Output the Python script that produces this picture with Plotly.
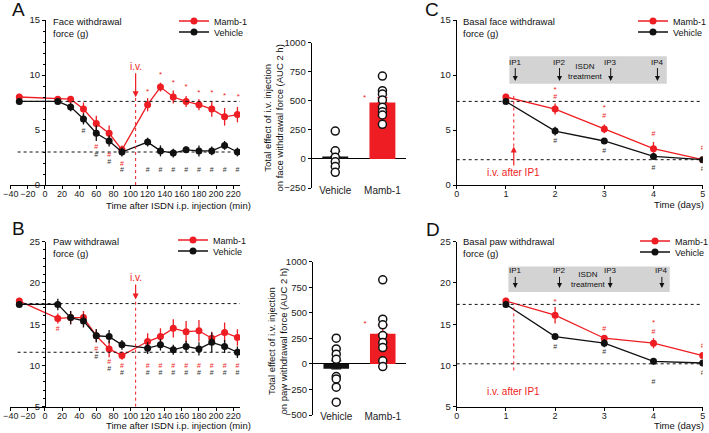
import plotly.graph_objects as go

RED = "#ee1d23"
BLACK = "#111111"
GREY = "#d3d3d3"
FONT = "Liberation Sans, Arial, sans-serif"
W, H = 709, 433

# ---- time course after ISDN i.p. injection (panels A and B)
minutes = [-30, 15, 30, 45, 60, 75, 90, 120, 135, 150, 165, 180, 195, 210, 225]

face_mamb = [8.0, 7.8, 7.8, 6.9, 5.6, 4.7, 3.2, 7.3, 8.9, 8.0, 7.6, 7.3, 6.9, 6.2, 6.4]
face_mamb_err = [0.3, 0.2, 0.2, 0.6, 0.7, 0.7, 0.4, 0.6, 0.4, 0.6, 0.5, 0.5, 0.7, 0.8, 0.7]
face_veh = [7.6, 7.6, 7.1, 6.0, 4.7, 4.0, 3.0, 3.9, 3.1, 2.9, 3.2, 3.1, 3.1, 3.6, 3.0]
face_veh_err = [0.3, 0.2, 0.4, 0.5, 0.7, 0.5, 0.4, 0.4, 0.5, 0.4, 0.3, 0.5, 0.4, 0.4, 0.4]
face_baselines = [7.6, 3.0]

paw_mamb = [17.8, 15.7, 15.8, 15.8, 13.6, 12.0, 11.2, 12.9, 13.5, 14.5, 14.1, 14.2, 13.3, 14.0, 13.4]
paw_mamb_err = [0.3, 0.6, 0.8, 0.8, 0.8, 1.0, 0.5, 1.0, 1.0, 1.1, 1.3, 1.3, 0.8, 1.2, 1.0]
paw_veh = [17.4, 17.4, 15.8, 15.4, 13.6, 13.5, 12.5, 12.1, 12.5, 11.9, 12.3, 12.0, 12.8, 12.3, 11.6]
paw_veh_err = [0.3, 0.7, 0.8, 0.8, 0.8, 0.8, 0.6, 0.7, 0.7, 0.6, 0.7, 0.8, 1.2, 0.8, 0.7]
paw_baselines = [17.5, 11.6]

iv_minute = 106

# significance marks (time, y)
face_star_t = [120, 135, 150, 165, 180, 195, 210, 226]
face_star_y = [8.5, 10.0, 9.25, 8.9, 8.35, 8.35, 8.1, 8.0]
face_hash_red_t = [60, 75, 90]
face_hash_red_y = [3.45, 2.7, 1.9]
face_hash_blk_t = [45, 60, 75, 90, 120, 135, 150, 165, 180, 195, 210, 225]
face_hash_blk_y = [4.9, 2.7, 2.05, 1.3, 1.35, 1.35, 1.35, 1.35, 1.35, 1.35, 1.35, 1.35]

paw_hash_red_t = [15, 60, 75, 90, 120, 135, 150, 165, 180, 195, 210, 225]
paw_hash_red_y = [14.35, 12.0, 10.4, 9.9, 9.9, 9.9, 9.9, 9.9, 9.9, 9.9, 9.9, 9.9]
paw_hash_blk_t = [60, 75, 90, 120, 135, 150, 165, 180, 195, 210, 225]
paw_hash_blk_y = [11.0, 9.5, 9.0, 9.0, 9.0, 9.0, 9.0, 9.0, 9.0, 9.0, 9.0]

# ---- AUC bar charts
groups = ["Vehicle", "Mamb-1"]
group_pos = [0, 1]
face_auc_mean = [20, 485]
face_auc_sem = [45, 42]
face_auc_veh_pts = [240, 70, 15, -25, -65, -115]
face_auc_mamb_pts = [713, 587, 558, 507, 444, 406, 378, 298]

paw_auc_mean = [-48, 295]
paw_auc_sem = [78, 85]
paw_auc_veh_pts = [252, 147, 95, 45, -124, -147, -228, -375]
paw_auc_mamb_pts = [823, 438, 382, 277, 209, 160, 30, -26]

# ---- basal withdrawal over days (panels C and D)
days = [1, 2, 3, 4, 5]
basal_face_mamb = [8.0, 6.9, 5.1, 3.3, 2.3]
basal_face_mamb_err = [0.3, 0.5, 0.4, 0.6, 0.2]
basal_face_veh = [7.6, 4.9, 4.0, 2.6, 2.3]
basal_face_veh_err = [0.2, 0.4, 0.2, 0.3, 0.2]
basal_face_baselines = [7.6, 2.3]

basal_paw_mamb = [17.8, 16.1, 13.3, 12.7, 11.2]
basal_paw_mamb_err = [0.4, 1.0, 0.4, 0.6, 0.4]
basal_paw_veh = [17.4, 13.5, 12.7, 10.5, 10.3]
basal_paw_veh_err = [0.3, 0.3, 0.5, 0.4, 0.4]
basal_paw_baselines = [17.4, 10.2]

ip_labels = ["IP1", "IP2", "IP3", "IP4"]
face_ip_days = [1.19, 2.09, 3.13, 4.08]
paw_ip_days = [1.19, 2.09, 3.12, 4.17]
iv_day = 1.16

c_star_d, c_star_y = [2, 3], [8.6, 7.0]
c_hash_red_d, c_hash_red_y = [2, 3, 4, 5], [8.0, 6.25, 4.6, 3.3]
c_hash_blk_d, c_hash_blk_y = [2, 3, 4, 5], [4.0, 3.05, 1.5, 1.4]
d_star_d, d_star_y = [2, 4], [17.7, 15.1]
d_hash_red_d, d_hash_red_y = [3, 4, 5], [14.4, 14.0, 12.3]
d_hash_blk_d, d_hash_blk_y = [2, 3, 4, 5], [12.2, 11.6, 8.0, 9.1]


def px(x):
    return x / W


def py(y):
    return 1 - y / H


fig = go.Figure()


def series(xs, ys, err, color, name, ax, legend):
    fig.add_trace(go.Scatter(
        x=xs, y=ys, mode="lines+markers", name=name,
        line=dict(color=color, width=1.3),
        marker=dict(color=color, size=7),
        error_y=dict(type="data", array=err, color=color, thickness=1.3, width=0),
        xaxis="x" + ax, yaxis="y" + ax, legend=legend, showlegend=True,
    ))


def marks(xs, ys, symbol, color, ax, size=8):
    fig.add_trace(go.Scatter(
        x=xs, y=ys, mode="text", text=[symbol] * len(xs),
        textfont=dict(color=color, size=size, family=FONT),
        xaxis="x" + ax, yaxis="y" + ax, showlegend=False, hoverinfo="skip",
    ))


def auc(means, sems, veh_pts, mamb_pts, ax):
    for i, color in enumerate([BLACK, RED]):
        fig.add_trace(go.Bar(
            x=[group_pos[i]], y=[means[i]], width=0.55,
            marker=dict(color=color, line=dict(width=0)),
            error_y=dict(type="data", array=[sems[i]], arrayminus=[0],
                         color=color, thickness=1.3, width=5),
            xaxis="x" + ax, yaxis="y" + ax, showlegend=False,
        ))
    for i, pts in enumerate([veh_pts, mamb_pts]):
        fig.add_trace(go.Scatter(
            x=[group_pos[i]] * len(pts), y=pts, mode="markers",
            marker=dict(symbol="circle", size=8, color="white",
                        line=dict(color=BLACK, width=1.5)),
            xaxis="x" + ax, yaxis="y" + ax, showlegend=False,
        ))


# panel A (axes 1, 2), panel C (3), panel B (4, 5), panel D (6)
series(minutes, face_mamb, face_mamb_err, RED, "Mamb-1", "", "legend")
series(minutes, face_veh, face_veh_err, BLACK, "Vehicle", "", "legend2")
marks(face_star_t, face_star_y, "*", RED, "")
marks(face_hash_red_t, face_hash_red_y, "#", RED, "", 7)
marks(face_hash_blk_t, face_hash_blk_y, "#", "#333", "", 7)

auc(face_auc_mean, face_auc_sem, face_auc_veh_pts, face_auc_mamb_pts, "2")
marks([0.62], [520], "*", RED, "2")

series(days, basal_face_mamb, basal_face_mamb_err, RED, "Mamb-1", "3", "legend3")
series(days, basal_face_veh, basal_face_veh_err, BLACK, "Vehicle", "3", "legend4")
marks(c_star_d, c_star_y, "*", RED, "3")
marks(c_hash_red_d, c_hash_red_y, "#", RED, "3", 7)
marks(c_hash_blk_d, c_hash_blk_y, "#", "#333", "3", 7)

series(minutes, paw_mamb, paw_mamb_err, RED, "Mamb-1", "4", "legend5")
series(minutes, paw_veh, paw_veh_err, BLACK, "Vehicle", "4", "legend6")
marks(paw_hash_red_t, paw_hash_red_y, "#", RED, "4", 7)
marks(paw_hash_blk_t, paw_hash_blk_y, "#", "#333", "4", 7)

auc(paw_auc_mean, paw_auc_sem, paw_auc_veh_pts, paw_auc_mamb_pts, "5")
marks([0.62], [390], "*", RED, "5")

series(days, basal_paw_mamb, basal_paw_mamb_err, RED, "Mamb-1", "6", "legend7")
series(days, basal_paw_veh, basal_paw_veh_err, BLACK, "Vehicle", "6", "legend8")
marks(d_star_d, d_star_y, "*", RED, "6")
marks(d_hash_red_d, d_hash_red_y, "#", RED, "6", 7)
marks(d_hash_blk_d, d_hash_blk_y, "#", "#333", "6", 7)


def ax_style(**kw):
    base = dict(showline=True, linecolor="black", linewidth=1.2, ticks="outside",
                ticklen=3, tickwidth=1.2, tickcolor="black", showgrid=False,
                zeroline=False, tickangle=0,
                tickfont=dict(size=9.5, color="#222", family=FONT))
    base.update(kw)
    return base


def x_style(**kw):
    return ax_style(ticklabelstandoff=-3, tickfont=dict(size=9, color="#222", family=FONT), **kw)


top_y = [py(185), py(20)]
bot_y = [py(406.7), py(241.7)]
time_x = [px(9.9), px(240)]
day_x = [px(456.7), px(702.7)]

shapes = []
annotations = []

for b in face_baselines:
    shapes.append(dict(type="line", xref="x", yref="y", x0=-32, x1=228, y0=b, y1=b,
                       line=dict(color=BLACK, width=1, dash="dot")))
for b in paw_baselines:
    shapes.append(dict(type="line", xref="x4", yref="y4", x0=-32, x1=228, y0=b, y1=b,
                       line=dict(color=BLACK, width=1, dash="dot")))
for b in basal_face_baselines:
    shapes.append(dict(type="line", xref="x3", yref="y3", x0=0, x1=5, y0=b, y1=b,
                       line=dict(color=BLACK, width=1, dash="dot")))
for b in basal_paw_baselines:
    shapes.append(dict(type="line", xref="x6", yref="y6", x0=0, x1=5, y0=b, y1=b,
                       line=dict(color=BLACK, width=1, dash="dot")))

# i.v. markers
shapes.append(dict(type="line", xref="x", yref="y", x0=iv_minute, x1=iv_minute, y0=0, y1=7.97,
                   line=dict(color=RED, width=1, dash="dot")))
shapes.append(dict(type="line", xref="x4", yref="y4", x0=iv_minute, x1=iv_minute, y0=5, y1=18,
                   line=dict(color=RED, width=1, dash="dot")))
shapes.append(dict(type="line", xref="x3", yref="y3", x0=iv_day, x1=iv_day, y0=3.5, y1=8.1,
                   line=dict(color=RED, width=1, dash="dot")))
shapes.append(dict(type="line", xref="x6", yref="y6", x0=iv_day, x1=iv_day, y0=9.4, y1=17.5,
                   line=dict(color=RED, width=1, dash="dot")))
annotations += [
    dict(x=iv_minute, y=7.97, xref="x", yref="y", text="i.v.", showarrow=True, ax=0, ay=-31,
         arrowhead=2, arrowsize=1, arrowwidth=1.2, arrowcolor=RED, font=dict(color=RED, size=10)),
    dict(x=iv_minute, y=18, xref="x4", yref="y4", text="i.v.", showarrow=True, ax=0, ay=-22,
         arrowhead=2, arrowsize=1, arrowwidth=1.2, arrowcolor=RED, font=dict(color=RED, size=10)),
    dict(x=iv_day, y=3.5, xref="x3", yref="y3", text="i.v. after IP1", showarrow=True, ax=0, ay=26,
         arrowhead=2, arrowsize=1, arrowwidth=1.2, arrowcolor=RED, font=dict(color=RED, size=10)),
    dict(x=iv_day, y=9.4, xref="x6", yref="y6", text="i.v. after IP1", showarrow=True, ax=0, ay=21,
         arrowhead=2, arrowsize=1, arrowwidth=1.2, arrowcolor=RED, font=dict(color=RED, size=10)),
]

# ISDN treatment boxes
shapes.append(dict(type="rect", xref="x3", yref="y3", x0=1.07, x1=4.27, y0=9.2, y1=11.7,
                   fillcolor=GREY, line=dict(width=0), layer="below"))
shapes.append(dict(type="rect", xref="x6", yref="y6", x0=1.05, x1=4.33, y0=18.9, y1=22.0,
                   fillcolor=GREY, line=dict(width=0), layer="below"))
for lab, d in zip(ip_labels, face_ip_days):
    annotations.append(dict(x=d, y=9.45, xref="x3", yref="y3", text=lab, showarrow=True,
                            ax=0, ay=-19, arrowhead=2, arrowsize=1, arrowwidth=1, arrowcolor=BLACK,
                            font=dict(size=8, color=BLACK)))
for lab, d in zip(ip_labels, paw_ip_days):
    annotations.append(dict(x=d, y=19.4, xref="x6", yref="y6", text=lab, showarrow=True,
                            ax=0, ay=-17, arrowhead=2, arrowsize=1, arrowwidth=1, arrowcolor=BLACK,
                            font=dict(size=8, color=BLACK)))
annotations += [
    dict(x=2.62, y=10.3, xref="x3", yref="y3", text="ISDN<br>treatment", showarrow=False,
         font=dict(size=8, color=BLACK)),
    dict(x=2.67, y=20.4, xref="x6", yref="y6", text="ISDN<br>treatment", showarrow=False,
         font=dict(size=8, color=BLACK)),
]


# texts in paper coordinates (pixel positions from the top-left)
def ptext(x, y, text, size=10, **kw):
    d = dict(x=px(x), y=py(y), xref="paper", yref="paper", text=text, showarrow=False,
             xanchor="center", yanchor="middle",
             font=dict(size=size, color=BLACK, family=FONT))
    d.update(kw)
    annotations.append(d)


for letter, x, y in [("A", 18, 9), ("B", 18, 228), ("C", 432, 9), ("D", 433, 229)]:
    ptext(x, y, letter, size=19)

for x, y, t in [(50.5, 14, "Face withdrawal<br>force (g)"),
                (50.5, 234, "Paw withdrawal<br>force (g)"),
                (461, 14, "Basal face withdrawal<br>force (g)"),
                (461, 234, "Basal paw withdrawal<br>force (g)")]:
    ptext(x, y, t, 9.5, xanchor="left", yanchor="top", align="left")
ptext(178, 206, "Time after ISDN i.p. injection (min)", 9.5)
ptext(178, 425, "Time after ISDN i.p. injection (min)", 9.5)
ptext(706, 204, "Time (days)", 9.5, xanchor="right")
ptext(706, 425, "Time (days)", 9.5, xanchor="right")
ptext(273.5, 118, "Total effect of i.v. injection<br>on face withdrawal force (AUC 2 h)", 9.5, textangle=-90)
ptext(276.5, 341, "Total effect of i.v. injection<br>on paw withdrawal force (AUC 2 h)", 9.5, textangle=-90)


def leg(x, y):
    return dict(x=px(x - 40), y=py(y), xanchor="left", yanchor="middle",
                bgcolor="rgba(0,0,0,0)", font=dict(size=9, color=BLACK, family=FONT),
                itemwidth=30, tracegroupgap=0)


def cat_axis(left, right, label_y, **kw):
    return dict(domain=[px(left), px(right)], range=[-0.5, 1.5], anchor="free",
                position=py(label_y), showline=False, ticks="", showgrid=False,
                zeroline=False, tickmode="array", tickvals=group_pos, ticktext=groups,
                tickfont=dict(size=10, color="#222", family=FONT), **kw)


fig.update_layout(
    width=W, height=H, margin=dict(l=0, r=0, t=0, b=0, autoexpand=False),
    plot_bgcolor="white", paper_bgcolor="white",
    font=dict(family=FONT, size=10, color=BLACK),
    shapes=shapes, annotations=annotations,
    legend=leg(214, 21), legend2=leg(214, 32),
    legend3=leg(673, 21), legend4=leg(673, 32),
    legend5=leg(213, 240), legend6=leg(213, 251),
    legend7=leg(675, 241), legend8=leg(675, 252),
    xaxis=x_style(domain=time_x, range=[-41, 228], tick0=-40, dtick=20, anchor="y"),
    yaxis=ax_style(domain=top_y, range=[0, 15], dtick=5, anchor="free", position=px(45),
                   minor=dict(dtick=1, ticklen=2, ticks="outside", tickcolor="black")),
    xaxis2=cat_axis(311.7, 406, 183),
    yaxis2=ax_style(domain=[py(188), py(42.7)], range=[-250, 1000], dtick=250, anchor="x2",
                    zeroline=True, zerolinecolor="black", zerolinewidth=1.3),
    xaxis3=x_style(domain=day_x, range=[0, 5], dtick=1, anchor="y3"),
    yaxis3=ax_style(domain=top_y, range=[0, 15], dtick=5, anchor="x3"),
    xaxis4=x_style(domain=time_x, range=[-41, 228], tick0=-40, dtick=20, anchor="y4"),
    yaxis4=ax_style(domain=bot_y, range=[5, 25], dtick=5, anchor="free", position=px(45),
                    minor=dict(dtick=1, ticklen=2, ticks="outside", tickcolor="black")),
    xaxis5=cat_axis(313, 406, 409),
    yaxis5=ax_style(domain=[py(415), py(261.7)], range=[-500, 1000], dtick=250, anchor="x5",
                    zeroline=True, zerolinecolor="black", zerolinewidth=1.3),
    xaxis6=x_style(domain=day_x, range=[0, 5], dtick=1, anchor="y6"),
    yaxis6=ax_style(domain=bot_y, range=[5, 25], dtick=5, anchor="x6"),
    barmode="overlay",
)

# the page body has a default 8px margin; drop it so the figure fills the window
fig.write_html("out.html", config={"displayModeBar": False},
               post_script="document.body.style.margin='0';")
